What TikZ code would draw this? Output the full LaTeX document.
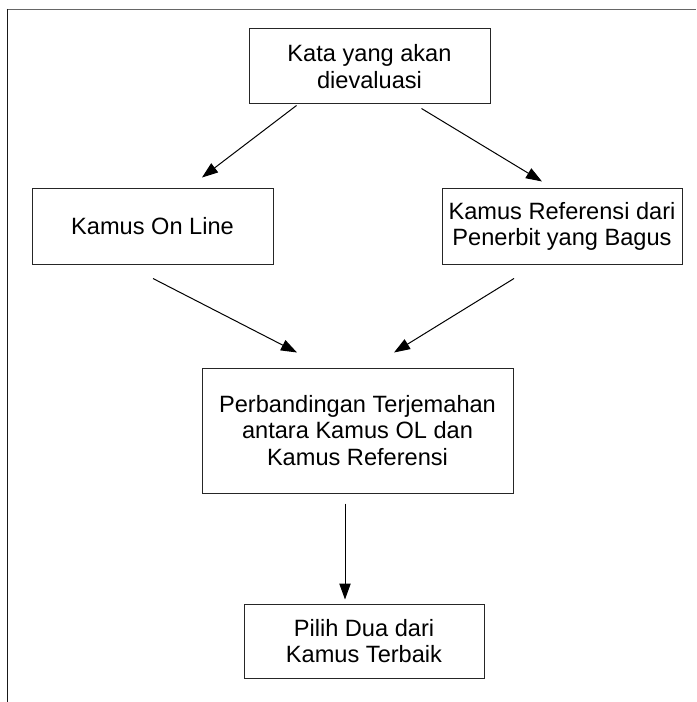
\documentclass[tikz,border=0pt]{standalone}
\usepackage{fontspec}
\setmainfont{Liberation Sans}
\usetikzlibrary{arrows.meta,calc}

\begin{document}
\begin{tikzpicture}[
  x=0.75pt, y=-0.75pt,
  box/.style={draw=black!85, line width=0.75pt, inner sep=0pt, align=center,
              font=\fontsize{17.7pt}{20pt}\selectfont, text=black},
  arr/.style={draw=black, line width=0.75pt,
              -{Triangle[length=12pt,width=8.5pt]}},
  frameline/.style={line width=0.9pt}
]
\useasboundingbox (0,0) rectangle (696,702);

% page frame (top and left edges)
\draw[frameline, draw=black!60] (6.5,9.5) -- (696,9.5);
\draw[frameline, draw=black!90] (7.5,9) -- (7.5,702);

% process boxes
\node[box, minimum width=180.75pt, minimum height=56.25pt] (top)  at (369.5,66.5)
  {Kata yang akan\\dievaluasi};
\node[box, minimum width=180.75pt, minimum height=56.25pt] (kol)  at (152.5,226.5)
  {Kamus On Line};
\node[box, minimum width=180pt, minimum height=56.25pt] (kref) at (562,226.5)
  {Kamus Referensi dari\\Penerbit yang Bagus};
\node[box, minimum width=233.25pt, minimum height=93.75pt] (comp) at (357.5,430.5)
  {Perbandingan Terjemahan\\antara Kamus OL dan\\Kamus Referensi};
\node[box, minimum width=180pt, minimum height=55.5pt] (pick) at (364,641)
  {Pilih Dua dari\\Kamus Terbaik};

% connectors
\draw[arr] ($(top.south west)+(48,1)$)   -- ($(kol.north)+(49.5,-11)$);
\draw[arr] ($(top.south west)+(173,4)$)  -- ($(kref.north)+(-20,-7)$);
\draw[arr] ($(kol.south)+(0.5,14)$)      -- ($(comp.north)+(-60.5,-15)$);
\draw[arr] ($(kref.south)+(-48,14)$)     -- ($(comp.north)+(36.5,-15)$);
\draw[arr] ($(comp.south)+(-12.5,10)$)   -- ($(pick.north)+(-19,-4)$);
\end{tikzpicture}
\end{document}
